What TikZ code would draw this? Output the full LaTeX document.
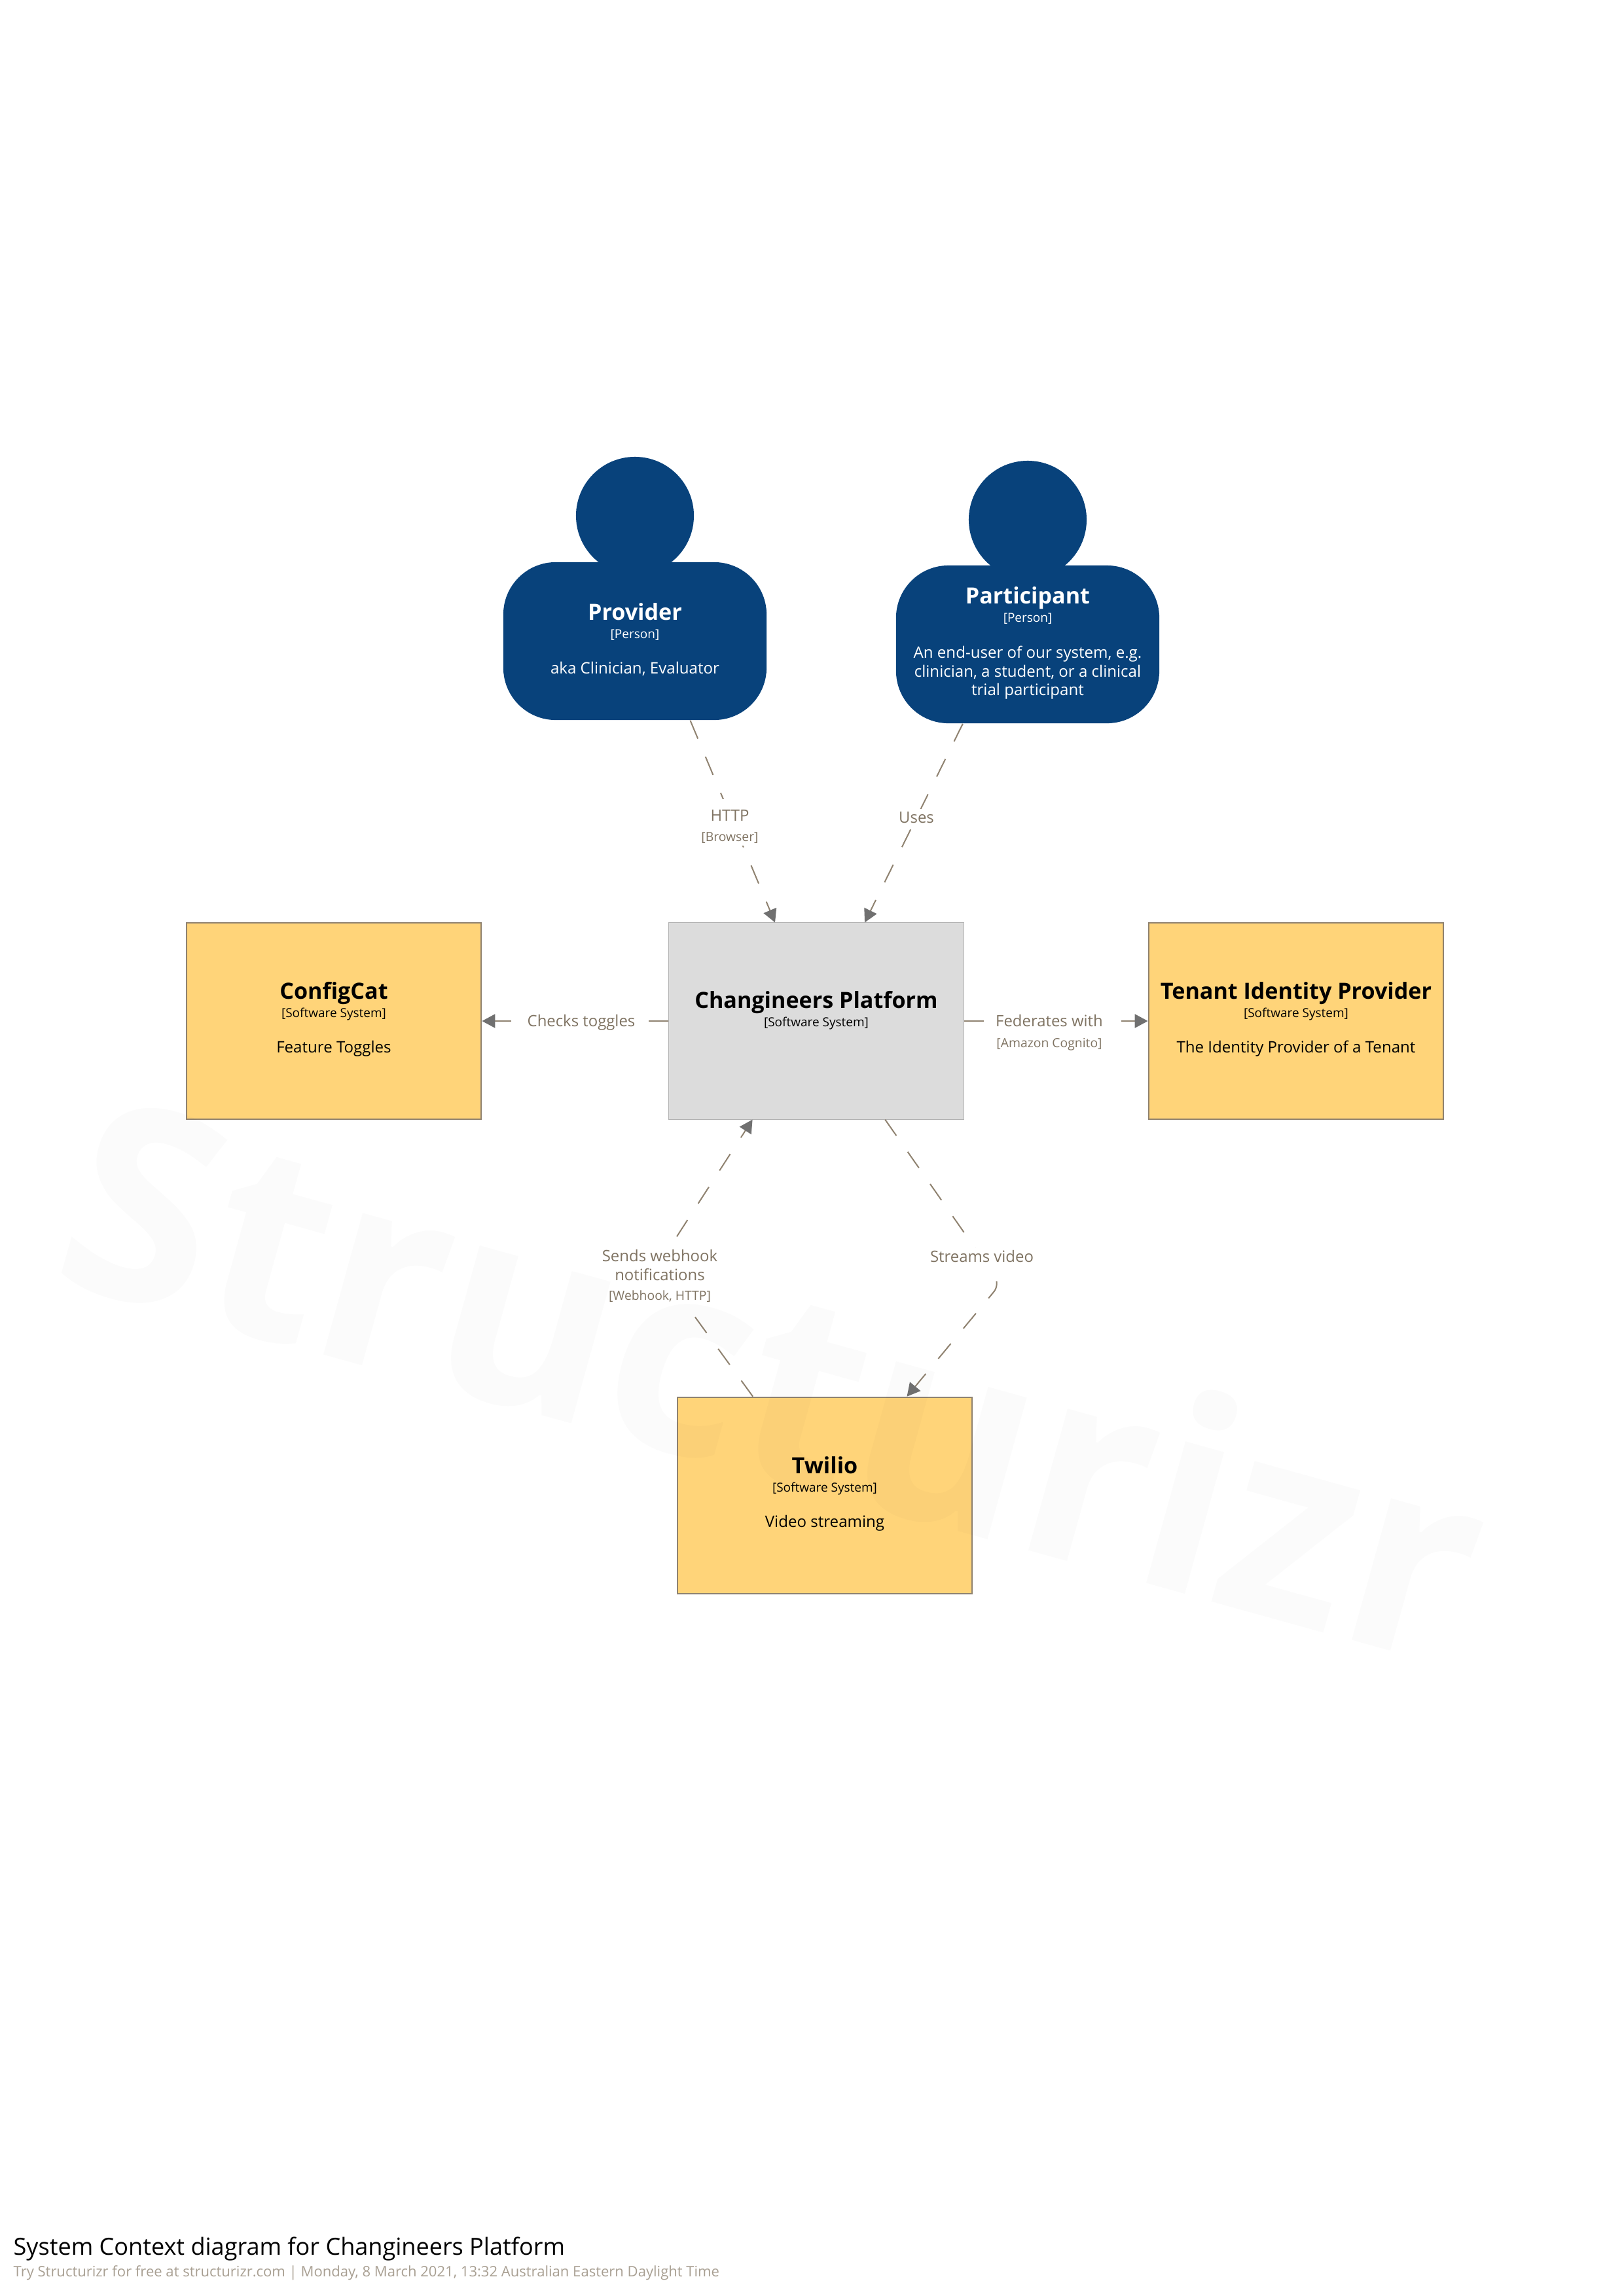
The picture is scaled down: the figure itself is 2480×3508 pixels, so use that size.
\documentclass[tikz,border=0pt]{standalone}
\usepackage{fontspec}
\setmainfont{Open Sans}
\usepackage{xcolor}
\usetikzlibrary{arrows.meta,positioning,calc}

\definecolor{personblue}{HTML}{08427B}
\definecolor{systemyellow}{HTML}{FFD479}
\definecolor{platformgrey}{HTML}{DCDCDC}
\definecolor{edgetan}{HTML}{8F8270}
\definecolor{reltext}{HTML}{7F7362}
\definecolor{tipgrey}{HTML}{707070}
\definecolor{footgrey}{HTML}{A89F92}

\tikzset{
    personarea/.style={minimum width=4.02cm,minimum height=4.02cm,inner sep=0pt},
    personbody/.style={fill=personblue,rounded corners=0.8cm,minimum width=4.02cm,minimum height=2.41cm,inner sep=0pt},
    personhead/.style={fill=personblue,circle,minimum size=1.8cm,inner sep=0pt},
    extsystem/.style={draw=edgetan,line width=0.025cm,fill=systemyellow,minimum width=4.5cm,minimum height=3cm,inner sep=0pt},
    mainsystem/.style={draw=black!30,line width=0.01cm,fill=platformgrey,minimum width=4.5cm,minimum height=3cm,inner sep=0pt},
    boxtitle/.style={anchor=base,font=\fontsize{9.7}{11}\selectfont\bfseries,inner sep=0pt},
    boxtag/.style={anchor=base,font=\fontsize{5.4}{7}\selectfont,inner sep=0pt},
    boxdesc/.style={anchor=base,font=\fontsize{6.85}{8.3}\selectfont,inner sep=0pt,align=center},
    rel/.style={draw=edgetan,line width=0.02cm,dash pattern=on 0.3cm off 0.3cm,-{Triangle[length=0.2cm,width=0.21cm,color=tipgrey]}},
    rellabel/.style={fill=white,text=reltext,align=center,inner xsep=0.05cm,inner ysep=0.04cm,font=\fontsize{6.8}{8.4}\selectfont}
}

\begin{document}
\begin{tikzpicture}[x=0.01cm,y=-0.01cm]
            \useasboundingbox (0,0) rectangle (2480,3508);

            \node[personarea] (provider) at (970,899) {};
            \node[personarea] (participant) at (1570,904) {};
            \node[personhead] (providerhead) at (970,788) {};
            \node[personbody] (providerbody) at (970,979.5) {};
            \node[personhead] (participanthead) at (1570,794) {};
            \node[personbody] (participantbody) at (1570,984.5) {};

            \node[extsystem] (configcat) at (510,1560) {};
            \node[mainsystem] (platform) at (1247,1560) {};
            \node[extsystem] (tenantidp) at (1980,1560) {};
            \node[extsystem] (twilio) at (1260,2285) {};

            % bends of the two lower connectors
            \coordinate (webhookvia) at (1005,1934);
            \coordinate (streamvia) at (1528,1962);

            \draw[rel] (provider) -- (platform);
            \draw[rel] (participant) -- (platform);
            \draw[rel] (platform) -- (configcat);
            \draw[rel] (platform) -- (tenantidp);
            \draw[rel] (twilio) -- (webhookvia) -- (platform);
            \draw[rel,rounded corners=0.15cm] (platform) -- (streamvia) -- (twilio);

            \node[rellabel] (httplabel) at (1115,1256.5) {\rule{0pt}{8.6pt}HTTP\\[0.3pt]{\fontsize{5.5}{7}\selectfont [Browser]}};
            \node[rellabel] (useslabel) at (1400,1249) {Uses};
            \node[rellabel] (checkslabel) at (888,1562) {Checks toggles};
            \node[rellabel,anchor=north] (federateslabel) at (1603,1546) {Federates with\\[0.5pt]{\fontsize{5.5}{7}\selectfont [Amazon Cognito]}};
            \node[rellabel] (webhooklabel) at (1008,1949) {Sends webhook\\notifications\\{\fontsize{5.5}{7}\selectfont [Webhook, HTTP]}};
            \node[rellabel] (streamslabel) at (1500,1920) {Streams video};

            % watermark
            \node[rotate=-15.5,opacity=0.015,font=\fontsize{117}{122}\selectfont\bfseries] (watermark) at (1185,2102) {Structurizr};

            \node[boxtitle,text=white] (providertitle) at (970,947) {Provider};
            \node[boxtag,text=white] (providertag) at (970,975) {[Person]};
            \node[boxdesc,text=white] (providerdesc) at (970,1029) {aka Clinician, Evaluator};

            \node[boxtitle,text=white] (participanttitle) at (1570,922) {Participant};
            \node[boxtag,text=white] (participanttag) at (1570,950) {[Person]};
            \node[boxdesc,text=white] (participantdesca) at (1570,1005) {An end-user of our system, e.g.};
            \node[boxdesc,text=white] (participantdescb) at (1570,1034) {clinician, a student, or a clinical};
            \node[boxdesc,text=white] (participantdescc) at (1570,1062) {trial participant};

            \node[boxtitle] (configcattitle) at (510,1526) {ConfigCat};
            \node[boxtag] (configcattag) at (510,1554) {[Software System]};
            \node[boxdesc] (configcatdesc) at (510,1608) {Feature Toggles};

            \node[boxtitle] (platformtitle) at (1247,1540) {Changineers Platform};
            \node[boxtag] (platformtag) at (1247,1568) {[Software System]};

            \node[boxtitle] (tenantidptitle) at (1980,1526) {Tenant Identity Provider};
            \node[boxtag] (tenantidptag) at (1980,1554) {[Software System]};
            \node[boxdesc] (tenantidpdesc) at (1980,1608) {The Identity Provider of a Tenant};

            \node[boxtitle] (twiliotitle) at (1260,2251) {Twilio};
            \node[boxtag] (twiliotag) at (1260,2279) {[Software System]};
            \node[boxdesc] (twiliodesc) at (1260,2333) {Video streaming};

            \node[anchor=base west,inner sep=0pt,font=\fontsize{10.25}{12}\selectfont] (diagramtitle) at (20,3445) {System Context diagram for Changineers Platform};
            \node[anchor=base west,inner sep=0pt,text=footgrey,font=\fontsize{6.27}{8}\selectfont] (diagramfoot) at (20,3478) {Try Structurizr for free at structurizr.com | Monday, 8 March 2021, 13:32 Australian Eastern Daylight Time};
\end{tikzpicture}
\end{document}
